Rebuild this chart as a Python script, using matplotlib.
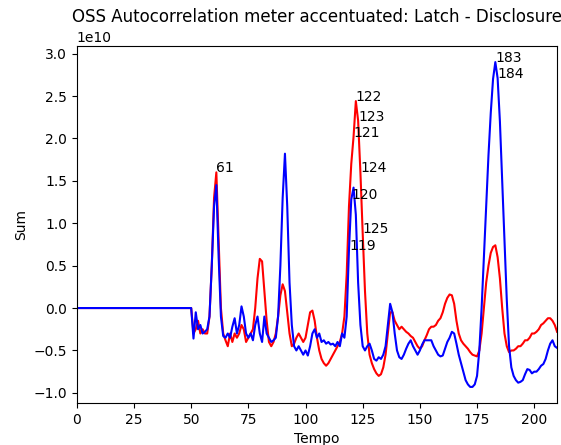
import matplotlib

matplotlib.use("Agg")
import matplotlib.pyplot as plt

# values are in units of 1e10
tempo = list(range(0, 211))

red_sum = [0.0] * 50 + [
    0.0, -0.3, -0.25, -0.15, -0.3, -0.25, -0.3, -0.3, -0.1, 0.5,
    1.3, 1.6, 0.8, 0.0, -0.3, -0.38, -0.45, -0.3, -0.4, -0.3,
    -0.35, -0.3, -0.2, -0.25, -0.4, -0.35, -0.3, -0.25, 0.0, 0.35,
    0.58, 0.55, 0.2, -0.15, -0.4, -0.45, -0.4, -0.3, -0.1, 0.15,
    0.28, 0.2, -0.05, -0.3, -0.45, -0.42, -0.35, -0.3, -0.35, -0.4,
    -0.35, -0.2, -0.05, -0.03, -0.15, -0.35, -0.5, -0.6, -0.65, -0.68,
    -0.65, -0.6, -0.55, -0.5, -0.45, -0.4, -0.3, -0.1, 0.4, 1.2,
    1.7, 2.02, 2.44, 2.21, 1.6, 0.88, 0.2, -0.3, -0.55, -0.65,
    -0.72, -0.77, -0.8, -0.78, -0.7, -0.55, -0.3, -0.05, -0.05, -0.15,
    -0.2, -0.25, -0.22, -0.25, -0.28, -0.3, -0.33, -0.35, -0.4, -0.45,
    -0.48, -0.45, -0.38, -0.32, -0.25, -0.22, -0.22, -0.2, -0.15, -0.12,
    -0.05, 0.05, 0.12, 0.16, 0.15, 0.05, -0.15, -0.3, -0.38, -0.42,
    -0.45, -0.48, -0.52, -0.55, -0.56, -0.57, -0.5, -0.3, 0.0, 0.3,
    0.5, 0.65, 0.72, 0.74, 0.6, 0.35, 0.0, -0.3, -0.45, -0.52,
    -0.5, -0.5, -0.48, -0.45, -0.45, -0.42, -0.38, -0.38, -0.35, -0.3,
    -0.3, -0.28, -0.25, -0.2, -0.18, -0.15, -0.12, -0.12, -0.15, -0.2,
    -0.28,
]

blue_sum = [0.0] * 50 + [
    0.0, -0.36, -0.05, -0.25, -0.2, -0.3, -0.28, -0.25, -0.1, 0.5,
    1.2, 1.45, 0.6, -0.1, -0.33, -0.35, -0.3, -0.35, -0.22, -0.12,
    -0.3, -0.2, 0.02, -0.1, -0.3, -0.35, -0.3, -0.38, -0.2, -0.1,
    -0.3, -0.4, -0.1, -0.3, -0.35, -0.4, -0.38, -0.35, -0.1, 0.5,
    1.3, 1.82, 1.2, 0.3, -0.2, -0.45, -0.5, -0.45, -0.5, -0.55,
    -0.5, -0.56, -0.45, -0.3, -0.25, -0.35, -0.3, -0.4, -0.38, -0.42,
    -0.4, -0.43, -0.42, -0.45, -0.4, -0.45, -0.3, -0.35, -0.1, 0.69,
    1.28, 1.42, 1.1, 0.3, -0.2, -0.45, -0.5, -0.45, -0.42, -0.5,
    -0.6, -0.62, -0.58, -0.6, -0.55, -0.45, -0.2, 0.05, -0.05, -0.3,
    -0.5, -0.58, -0.6, -0.55, -0.48, -0.42, -0.38, -0.45, -0.5, -0.55,
    -0.5, -0.43, -0.38, -0.38, -0.38, -0.38, -0.45, -0.5, -0.55, -0.57,
    -0.56, -0.48, -0.4, -0.35, -0.28, -0.3, -0.42, -0.55, -0.65, -0.75,
    -0.85, -0.9, -0.93, -0.93, -0.9, -0.8, -0.5, 0.0, 0.6, 1.2,
    1.8, 2.3, 2.7, 2.9, 2.71, 2.2, 1.5, 0.8, 0.1, -0.45,
    -0.7, -0.8, -0.85, -0.88, -0.87, -0.85, -0.78, -0.72, -0.73, -0.77,
    -0.75, -0.75, -0.72, -0.68, -0.66, -0.6, -0.5, -0.42, -0.38, -0.45,
    -0.47,
]

# peak labels: (tempo, which series the label sits on)
red_labels = [61, 121, 122, 123, 124, 125]
blue_labels = [119, 120, 183, 184]

scale = 1e10
red_vals = [v * scale for v in red_sum]
blue_vals = [v * scale for v in blue_sum]

fig = plt.figure(figsize=(5.61, 4.45), dpi=100)
ax = fig.add_axes([0.137, 0.094, 0.856, 0.803])
ax.plot(tempo, red_vals, color="red", linewidth=1.5)
ax.plot(tempo, blue_vals, color="blue", linewidth=1.5)

for t in red_labels:
    ax.text(t, red_vals[t], str(t), fontsize=10)
for t in blue_labels:
    ax.text(t, blue_vals[t], str(t), fontsize=10)

ax.set_xlim(0, 210)
ax.set_title("OSS Autocorrelation meter accentuated: Latch - Disclosure")
ax.set_xlabel("Tempo")
ax.set_ylabel("Sum")

fig.savefig("out.png", dpi=100)
